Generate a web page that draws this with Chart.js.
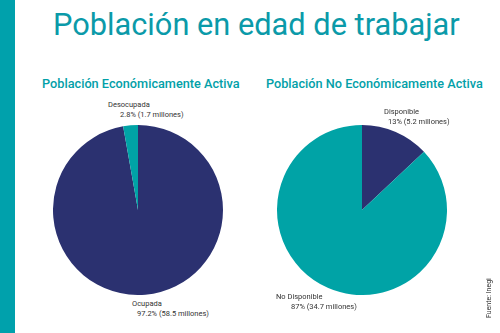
<!DOCTYPE html>
<html>
<head>
<meta charset="utf-8">
<script src="https://cdn.jsdelivr.net/npm/chart.js@4/dist/chart.umd.min.js"></script>
<style>
  html, body { margin:0; padding:0; background:#fff; }
  body { width:500px; height:333px; position:relative; overflow:hidden; font-family:Roboto, sans-serif; }
  .bar { position:absolute; left:0; top:0; width:15px; height:333px; background:#00A1AC; }
  .title { position:absolute; left:53px; top:6px; color:#0B9AA9; font-size:30px; font-weight:400; white-space:nowrap; }
  .sub { position:absolute; top:76px; color:#02A0A8; font-size:13px; font-weight:500; white-space:nowrap; }
  .lbl { position:absolute; color:#333; font-size:7.5px; line-height:10px; white-space:nowrap; }
  .box { position:absolute; width:170px; height:170px; }
  .src { position:absolute; left:485px; top:318px; transform-origin:0 0; transform:rotate(-90deg); font-size:7px; color:#333; white-space:nowrap; }
</style>
</head>
<body>
<div class="bar"></div>
<div class="title" id="t">Población en edad de trabajar</div>
<div class="sub" id="s1" style="left:42px;">Población Económicamente Activa</div>
<div class="sub" id="s2" style="left:266px;">Población No Económicamente Activa</div>

<div class="box" style="left:53px;top:125px;"><canvas id="c1"></canvas></div>
<div class="box" style="left:277px;top:125px;"><canvas id="c2"></canvas></div>

<div class="lbl" style="left:108px;top:100px;">Desocupada<br><span style="padding-left:12px">2.8% (1.7 millones)</span></div>
<div class="lbl" style="left:132px;top:299px;">Ocupada<br><span style="padding-left:5px">97.2% (58.5 millones)</span></div>
<div class="lbl" style="left:384px;top:107px;">Disponible<br><span style="padding-left:4px">13% (5.2 millones)</span></div>
<div class="lbl" style="left:276px;top:292px;">No Disponible<br><span style="padding-left:15px">87% (34.7 millones)</span></div>
<div class="src">Fuente: Inegi</div>

<script>
const peaLabels = ["Ocupada", "Desocupada"];
const peaValues = [97.2, 2.8];
const pneaLabels = ["Disponible", "No Disponible"];
const pneaValues = [13, 87];
const navy = "#2B3170";
const teal = "#00A3A6";

function fit(id, w) {
  const el = document.getElementById(id);
  const cur = el.getBoundingClientRect().width;
  const fs = parseFloat(getComputedStyle(el).fontSize);
  el.style.fontSize = (fs * w / cur) + "px";
}
fit("t", 407); fit("s1", 198); fit("s2", 217);

function pie(id, labels, values, colors) {
  new Chart(document.getElementById(id), {
    type: "pie",
    data: { labels: labels, datasets: [{ data: values, backgroundColor: colors, borderWidth: 0 }] },
    options: {
      responsive: true, maintainAspectRatio: false, animation: false,
      layout: { padding: 0 },
      plugins: { legend: { display: false }, tooltip: { enabled: false } }
    }
  });
}
pie("c1", peaLabels, peaValues, [navy, teal]);
pie("c2", pneaLabels, pneaValues, [navy, teal]);
</script>
</body>
</html>
